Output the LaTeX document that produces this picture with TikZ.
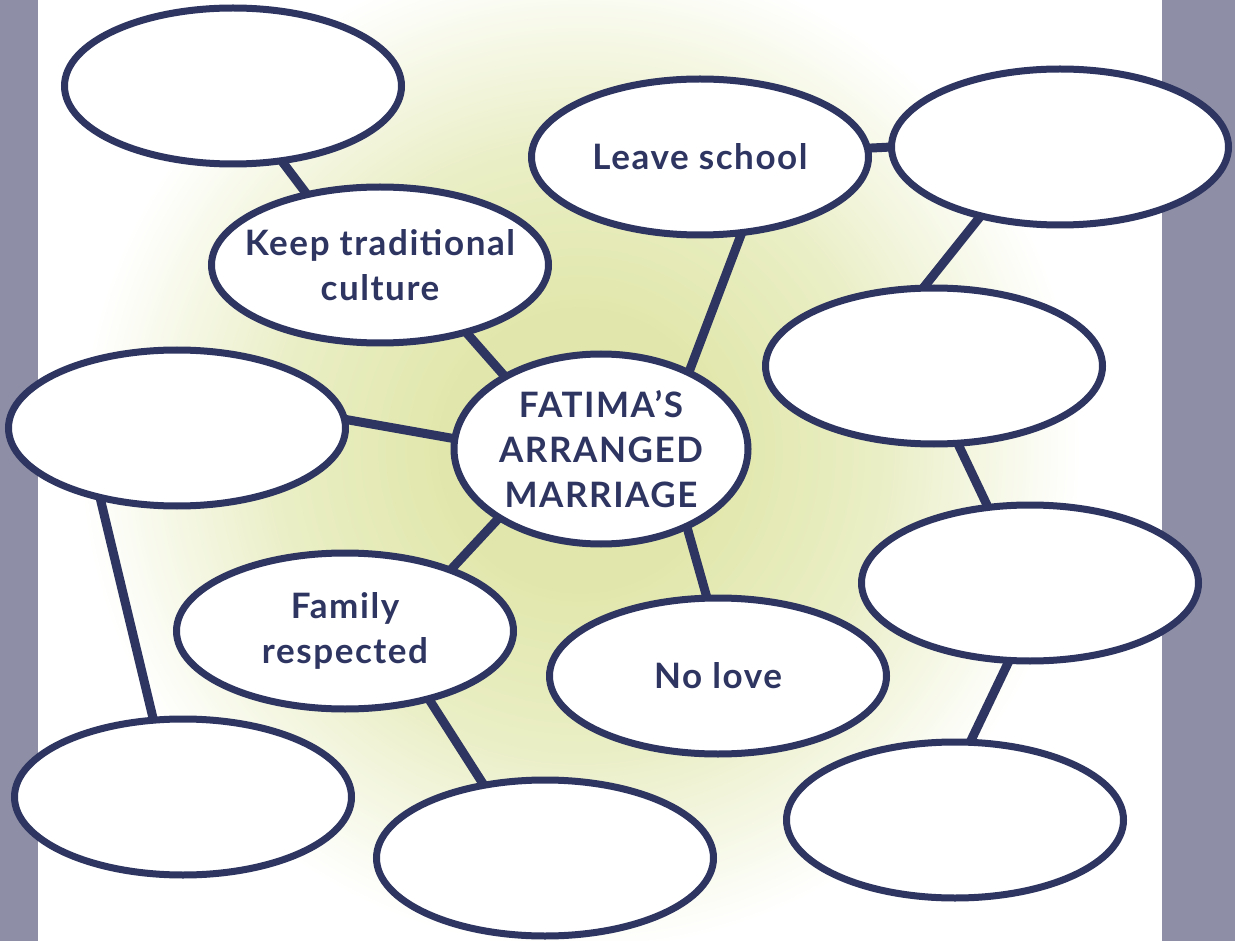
\documentclass[tikz,border=0pt]{standalone}
\usepackage{fontspec}
\setmainfont{Lato}
\newfontfamily\bubfont[LetterSpace=4.5]{Lato}
\usetikzlibrary{shapes.geometric}

\definecolor{navy}{RGB}{46,53,96}
\definecolor{barc}{RGB}{142,143,166}
\definecolor{glowc}{RGB}{225,231,172}

% soft yellow-green halo behind the mind map
\pgfdeclareradialshading{halo}{\pgfpoint{0bp}{0bp}}{%
  color(0bp)=(glowc);
  color(7bp)=(glowc);
  color(15bp)=(glowc!70!white);
  color(25bp)=(white);
  color(50bp)=(white)}

\tikzset{
  bub/.style={ellipse, draw=navy, line width=7pt, fill=white,
    minimum width=337pt, minimum height=156pt, inner sep=0pt, outer sep=0pt,
    text=navy, align=center,
    font=\bubfont\bfseries\fontsize{35}{45}\selectfont},
  hub/.style={bub, minimum width=294pt, minimum height=190pt},
  link/.style={draw=navy, line width=9pt}
}

\begin{document}
\begin{tikzpicture}[x=1pt, y=-1pt]
\useasboundingbox (0,0) rectangle (1235,941);

% page background and side bars
\fill[white] (0,0) rectangle (1235,941);
\fill[barc] (0,0) rectangle (38,941);
\fill[barc] (1162,0) rectangle (1235,941);
\begin{scope}
  \clip (38,0) rectangle (1162,941);
  \shade[shading=halo] (580,450) circle [radius=500pt];
\end{scope}

% bubbles
\node[hub] (hub) at (601,449) {FATIMA’S\\ARRANGED\\MARRIAGE};
\node[bub] (tl)     at (233,86)   {};
\node[bub, inner xsep=-22pt] (keep) at (380,265) {Keep traditional\\culture};
\node[bub] (leave)  at (700,157)  {Leave school};
\node[bub] (tr)     at (1060,147) {};
\node[bub] (rtwo)   at (934,366)  {};
\node[bub] (left)   at (177,428)  {};
\node[bub] (rthree) at (1030,583) {};
\node[bub] (family) at (345,631)  {Family\\respected};
\node[bub] (nolove) at (718,676)  {No love};
\node[bub] (bl)     at (183,797)  {};
\node[bub] (bm)     at (545,858)  {};
\node[bub] (br)     at (955,820)  {};

% connectors
\draw[link] (tl.303)     -- (keep.136);
\draw[link] (keep.322)   -- (hub.143);
\draw[link] (leave.299)  -- (hub.41);
\draw[link] (leave.3)    -- (tr.180);
\draw[link] (tr.221)     -- (rtwo.98);
\draw[link] (rtwo.287)   -- (rthree.119);
\draw[link] (rthree.255) -- (br.79);
\draw[link] (left.3)     -- (hub.176);
\draw[link] (left.222)   -- (bl.111);
\draw[link] (hub.214)    -- (family.30);
\draw[link] (hub.318)    -- (nolove.98);
\draw[link] (family.321) -- (bm.130);
\end{tikzpicture}
\end{document}
